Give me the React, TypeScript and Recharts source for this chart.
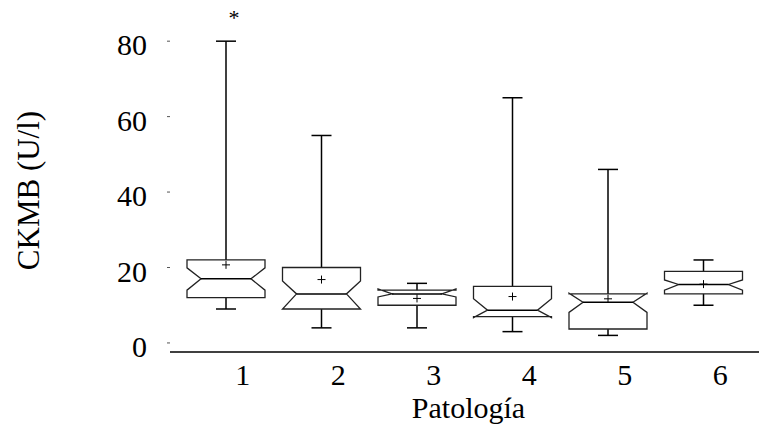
import React from 'react'
import { ComposedChart, Bar, XAxis, YAxis } from 'recharts'

const categories = ['1', '2', '3', '4', '5', '6']
const whiskerLow = [9, 4, 4, 3, 2, 10]
const q1 = [12, 9, 10, 7, 3.7, 13]
const notchLow = [14, 9, 12.2, 6.7, 8.1, 14]
const median = [17, 13, 13, 8.7, 10.8, 15.5]
const notchHigh = [19.9, 16.4, 14.3, 11.7, 13.2, 16.7]
const q3 = [22, 20, 14, 15, 13, 19]
const whiskerHigh = [80, 55, 15.8, 65, 46, 22]
const means = [20.7, 16.8, 11.8, 12.3, 11.7, 15.6]
const outliers: number[][] = [[87], [], [], [], [], []]
const yTicks = [0, 20, 40, 60, 80]

const data = categories.map((name, i) => ({
  name,
  wl: whiskerLow[i],
  q1: q1[i],
  nl: notchLow[i],
  med: median[i],
  nh: notchHigh[i],
  q3: q3[i],
  wh: whiskerHigh[i],
  mean: means[i],
  out: outliers[i],
}))

const FONT = '"Liberation Serif", "Times New Roman", serif'

const BoxShape = (props: any) => {
  const { x, y, width, height, payload } = props
  const top = Math.min(y, y + height)
  const bot = Math.max(y, y + height)
  const lo = payload.wl
  const hi = payload.wh
  // linear map through the bar's own pixel range (from the y scale)
  const py = (v: number) => bot - ((v - lo) * (bot - top)) / (hi - lo)
  const L = x
  const R = x + width
  const cx = x + width / 2
  const ind = width * 0.18
  const cap = 10
  const pts = [
    [L, py(payload.q3)],
    [L, py(payload.nh)],
    [L + ind, py(payload.med)],
    [L, py(payload.nl)],
    [L, py(payload.q1)],
    [R, py(payload.q1)],
    [R, py(payload.nl)],
    [R - ind, py(payload.med)],
    [R, py(payload.nh)],
    [R, py(payload.q3)],
  ]
  const my = py(payload.mean)
  return (
    <g>
      <line x1={cx} x2={cx} y1={py(payload.q3)} y2={py(hi)} stroke="#000" strokeWidth={1.5} />
      <line x1={cx - cap} x2={cx + cap} y1={py(hi)} y2={py(hi)} stroke="#000" strokeWidth={1.5} />
      <line x1={cx} x2={cx} y1={py(payload.q1)} y2={py(lo)} stroke="#000" strokeWidth={1.5} />
      <line x1={cx - cap} x2={cx + cap} y1={py(lo)} y2={py(lo)} stroke="#000" strokeWidth={1.5} />
      <polygon points={pts.map((p) => p.join(',')).join(' ')} fill="none" stroke="#222" strokeWidth={1.3} />
      <line x1={L + ind} x2={R - ind} y1={py(payload.med)} y2={py(payload.med)} stroke="#000" strokeWidth={1.5} />
      <line x1={cx - 4} x2={cx + 4} y1={my} y2={my} stroke="#000" strokeWidth={1} />
      <line x1={cx} x2={cx} y1={my - 4} y2={my + 4} stroke="#000" strokeWidth={1} />
      {payload.out.map((o: number, k: number) => (
        <text key={k} x={cx + 8} y={py(o) + 10} textAnchor="middle" fontSize={22} fontFamily={FONT} fill="#000">
          *
        </text>
      ))}
    </g>
  )
}

const XTick = (props: any) => {
  const { x, y, payload } = props
  return (
    <text x={x + 17} y={y} dy="0.71em" textAnchor="middle" fontSize={30} fontFamily={FONT} fill="#000">
      {payload.value}
    </text>
  )
}

const YTick = (props: any) => {
  const { x, y, payload } = props
  return (
    <text x={x} y={y} dy={14} textAnchor="end" fontSize={30} fontFamily={FONT} fill="#000">
      {payload.value}
    </text>
  )
}

export default function App() {
  return (
    <div style={{ position: 'absolute', left: 0, top: 0, background: '#fff' }}>
      <ComposedChart width={759} height={429} data={data} margin={{ top: 11, right: 0, bottom: 0, left: 0 }}>
        <XAxis
          dataKey="name"
          height={77}
          padding={{ left: 8, right: 8 }}
          axisLine={{ stroke: '#000', strokeWidth: 1.5 }}
          tickLine={false}
          tickSize={6}
          tickMargin={6}
          tick={<XTick />}
          label={{
            content: (p: any) => {
              const vb = p.viewBox
              return (
                <text x={vb.x + vb.width / 2 + 4} y={vb.y + 66} textAnchor="middle" fontSize={30} fontFamily={FONT} fill="#000">
                  Patología
                </text>
              )
            },
          }}
        />
        <YAxis
          type="number"
          domain={[-2.4, 88]}
          ticks={yTicks}
          width={170}
          axisLine={false}
          tickLine={{ stroke: '#555' }}
          tickSize={3}
          tickMargin={20}
          tick={<YTick />}
          label={{
            content: (p: any) => {
              const vb = p.viewBox
              const lx = vb.x + 39
              const ly = vb.y + vb.height / 2 + 9
              return (
                <text x={lx} y={ly} transform={`rotate(-90, ${lx}, ${ly})`} textAnchor="middle" fontSize={31} fontFamily={FONT} fill="#000">
                  CKMB (U/l)
                </text>
              )
            },
          }}
        />
        <Bar dataKey={(d: any) => [d.wl, d.wh]} barSize={78} shape={<BoxShape />} isAnimationActive={false} />
      </ComposedChart>
    </div>
  )
}
